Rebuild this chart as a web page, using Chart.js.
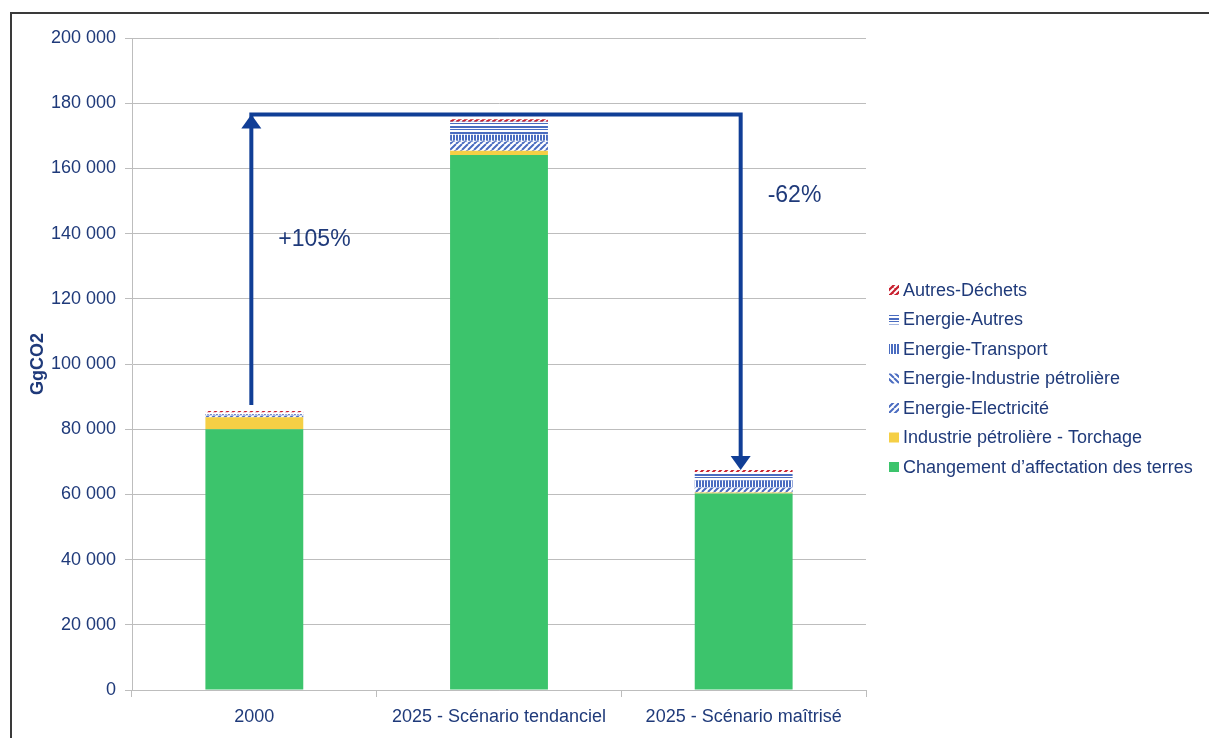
<!DOCTYPE html>
<html>
<head>
<meta charset="utf-8">
<script src="https://cdn.jsdelivr.net/npm/chart.js@4.4.1/dist/chart.umd.min.js"></script>
<style>
  html, body { margin: 0; padding: 0; background: #fff; overflow: hidden; }
  #wrap { position: relative; width: 1209px; height: 738px; }
  #frame { position: absolute; left: 10px; top: 12px; width: 1230px; height: 800px; border: 2px solid #3a3a3a; box-sizing: border-box; }
  canvas { position: absolute; left: 0; top: 0; }
</style>
</head>
<body>
<div id="wrap">
  <div id="frame"></div>
  <canvas id="chart" width="1209" height="738"></canvas>
</div>
<script>
const categories = ['2000', '2025 - Scénario tendanciel', '2025 - Scénario maîtrisé'];

const changement = [80000, 164100, 60300];
const torchage = [3700, 1300, 300];
const electricite = [500, 2800, 1500];
const industriePetroliere = [200, 300, 200];
const transport = [300, 1800, 2000];
const autres = [400, 4000, 2600];
const dechets = [500, 800, 600];

const yTicks = [0, 20000, 40000, 60000, 80000, 100000, 120000, 140000, 160000, 180000, 200000];

const NAVY = '#1f3a7a';
const ARROW = '#103e96';
const BLUE = '#4a6cc0';
const FONT = "'Liberation Sans', Arial, sans-serif";

// small canvas patterns for the hatched series
function pattern(kind, color, bg) {
  const c = document.createElement('canvas');
  c.width = 6; c.height = 6;
  const g = c.getContext('2d');
  g.fillStyle = bg;
  g.fillRect(0, 0, 6, 6);
  g.strokeStyle = color;
  g.fillStyle = color;
  if (kind === 'h') {
    g.fillRect(0, 0, 6, 2);
    g.fillRect(0, 3, 6, 1);
  } else if (kind === 'v') {
    g.fillRect(0, 0, 2, 6);
    g.fillRect(3, 0, 2, 6);
  } else if (kind === 'fwd' || kind === 'back') {
    g.lineWidth = 2;
    g.beginPath();
    for (let o = -6; o <= 12; o += 6) {
      if (kind === 'fwd') { g.moveTo(o, 6); g.lineTo(o + 6, 0); }
      else { g.moveTo(o, 0); g.lineTo(o + 6, 6); }
    }
    g.stroke();
  }
  return g.createPattern(c, 'repeat');
}

const series = [
  { label: 'Changement d\u2019affectation des terres', data: changement, bg: '#3cc46c' },
  { label: 'Industrie pétrolière - Torchage', data: torchage, bg: '#f5cf45' },
  { label: 'Energie-Electricité', data: electricite, bg: pattern('fwd', BLUE, '#ffffff') },
  { label: 'Energie-Industrie pétrolière', data: industriePetroliere, bg: pattern('back', BLUE, '#ffffff') },
  { label: 'Energie-Transport', data: transport, bg: pattern('v', BLUE, '#ffffff') },
  { label: 'Energie-Autres', data: autres, bg: pattern('h', BLUE, '#ffffff') },
  { label: 'Autres-Déchets', data: dechets, bg: pattern('fwd', '#ffffff', '#c8202f') }
];

const totals = categories.map((_, i) => series.reduce((s, d) => s + d.data[i], 0));
const ARROW_LEVEL = 176500;

const arrowPlugin = {
  id: 'arrows',
  afterDatasetsDraw(chart) {
    const { ctx, scales: { x, y } } = chart;
    const x0 = x.getPixelForValue(0) - 3;
    const x2 = x.getPixelForValue(2) - 3;
    const yTop = y.getPixelForValue(ARROW_LEVEL);
    const yStart = y.getPixelForValue(totals[0]) - 6;
    const yEnd = y.getPixelForValue(totals[2]);
    ctx.save();
    ctx.strokeStyle = ARROW;
    ctx.fillStyle = ARROW;
    ctx.lineWidth = 4;
    ctx.beginPath();
    ctx.moveTo(x0, yStart);
    ctx.lineTo(x0, yTop);
    ctx.lineTo(x2, yTop);
    ctx.lineTo(x2, yEnd - 10);
    ctx.stroke();
    // heads
    ctx.beginPath();
    ctx.moveTo(x0, yTop);
    ctx.lineTo(x0 - 10, yTop + 14);
    ctx.lineTo(x0 + 10, yTop + 14);
    ctx.closePath();
    ctx.fill();
    ctx.beginPath();
    ctx.moveTo(x2, yEnd);
    ctx.lineTo(x2 - 10, yEnd - 14);
    ctx.lineTo(x2 + 10, yEnd - 14);
    ctx.closePath();
    ctx.fill();
    ctx.font = '23px ' + FONT;
    ctx.fillStyle = NAVY;
    ctx.textBaseline = 'middle';
    ctx.fillText('+105%', x0 + 27, y.getPixelForValue(138000));
    ctx.fillText('-62%', x2 + 27, y.getPixelForValue(151500));
    ctx.restore();
  }
};

// legend drawn at the right: the built-in one gets capped at a narrow width
const sideLegend = {
  id: 'sideLegend',
  afterDraw(chart) {
    const { ctx, chartArea } = chart;
    const sets = chart.data.datasets.slice().reverse();
    const left = chartArea.right + 23;
    let yc = chartArea.top + 252;
    ctx.save();
    ctx.font = '18px ' + FONT;
    ctx.textBaseline = 'middle';
    sets.forEach(ds => {
      ctx.fillStyle = ds.backgroundColor;
      ctx.fillRect(left, yc - 5, 10, 10);
      ctx.fillStyle = NAVY;
      ctx.fillText(ds.label, left + 14, yc + 1);
      yc += 29.5;
    });
    ctx.restore();
  }
};

new Chart(document.getElementById('chart'), {
  type: 'bar',
  data: {
    labels: categories,
    datasets: series.map(s => ({
      label: s.label,
      data: s.data,
      backgroundColor: s.bg,
      borderWidth: 0,
      barPercentage: 0.4,
      categoryPercentage: 1
    }))
  },
  options: {
    responsive: false,
    animation: false,
    layout: { padding: { top: 38, left: 0, right: 343, bottom: 0 } },
    plugins: {
      tooltip: { enabled: false },
      legend: { display: false }
    },
    scales: {
      x: {
        stacked: true,
        grid: { drawOnChartArea: false, color: '#bdbdbd', tickLength: 7 },
        border: { color: '#bdbdbd' },
        ticks: { color: NAVY, font: { family: FONT, size: 18 }, padding: 9, maxRotation: 0 },
        afterFit: s => { s.height = 48; }
      },
      y: {
        stacked: true,
        min: 0,
        max: 200000,
        grid: { color: '#bdbdbd', tickLength: 7 },
        border: { color: '#bdbdbd' },
        afterBuildTicks: s => { s.ticks = yTicks.map(v => ({ value: v })); },
        ticks: {
          color: NAVY,
          font: { family: FONT, size: 18 },
          padding: 9,
          callback: v => v.toLocaleString('fr-FR').replace(/\s/g, ' ')
        },
        title: {
          display: true,
          text: 'GgCO2',
          color: NAVY,
          font: { family: FONT, size: 18, weight: 'bold' },
          padding: { top: 27, bottom: 0 }
        },
        afterFit: s => { s.width = 132; }
      }
    }
  },
  plugins: [arrowPlugin, sideLegend]
});
</script>
</body>
</html>
